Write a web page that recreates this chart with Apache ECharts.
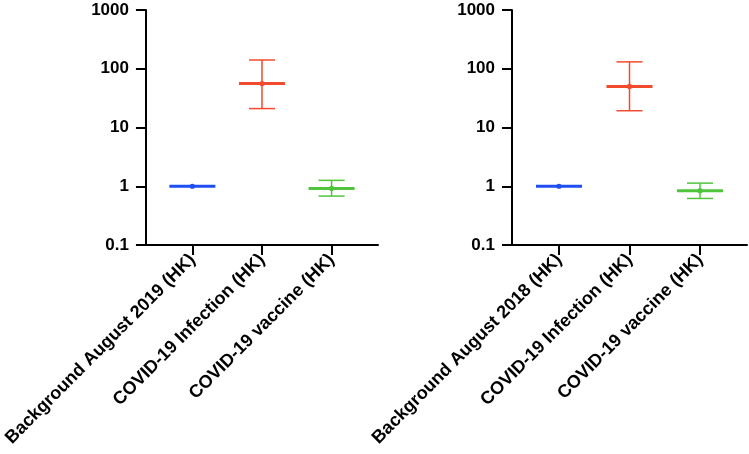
<!DOCTYPE html>
<html>
<head>
<meta charset="utf-8">
<script src="https://cdn.jsdelivr.net/npm/echarts@6/dist/echarts.min.js"></script>
<style>html,body{margin:0;padding:0;background:#fff}#c{width:749px;height:454px}</style>
</head>
<body>
<div id="c"></div>
<script>
// ---- data ----
var categoriesLeft = ['Background August 2019 (HK)', 'COVID-19 Infection (HK)', 'COVID-19 vaccine (HK)'];
var categoriesRight = ['Background August 2018 (HK)', 'COVID-19 Infection (HK)', 'COVID-19 vaccine (HK)'];
var meanLeft = [1, 56, 0.92];
var lowerLeft = [1, 21, 0.68];
var upperLeft = [1, 141, 1.26];
var meanRight = [1, 50, 0.84];
var lowerRight = [1, 19.3, 0.62];
var upperRight = [1, 131, 1.13];
var yTicks = [0.1, 1, 10, 100, 1000];
var groupColors = ['#1f4ff0', '#f24a2c', '#4fc43c'];

function buildData(mean, lo, hi) {
  return mean.map(function (m, i) { return [i + 1, m, lo[i], hi[i], i]; });
}

function renderItem(params, api) {
  var x = api.value(0), m = api.value(1), lo = api.value(2), hi = api.value(3), ci = api.value(4);
  var pm = api.coord([x, m]), pl = api.coord([x, lo]), ph = api.coord([x, hi]);
  var col = groupColors[ci];
  var children = [];
  if (Math.abs(hi - lo) > 1e-9) {
    var thin = { stroke: col, lineWidth: 1.5 };
    children.push({ type: 'line', shape: { x1: pm[0], y1: pl[1], x2: pm[0], y2: ph[1] }, style: thin });
    children.push({ type: 'line', shape: { x1: pm[0] - 13, y1: ph[1], x2: pm[0] + 13, y2: ph[1] }, style: thin });
    children.push({ type: 'line', shape: { x1: pm[0] - 13, y1: pl[1], x2: pm[0] + 13, y2: pl[1] }, style: thin });
  }
  children.push({ type: 'line', shape: { x1: pm[0] - 23, y1: pm[1], x2: pm[0] + 23, y2: pm[1] }, style: { stroke: col, lineWidth: 3 } });
  children.push({ type: 'circle', shape: { cx: pm[0], cy: pm[1], r: 2.6 }, style: { fill: col } });
  return { type: 'group', children: children };
}

var labelFont = { fontFamily: 'Liberation Sans, Arial, sans-serif', fontWeight: 'bold', color: '#000' };

function xAxis(idx, cats) {
  return {
    type: 'value', gridIndex: idx, min: 1 / 3, max: 11 / 3,
    splitLine: { show: false },
    axisLine: { show: true, lineStyle: { color: '#000', width: 2 } },
    axisTick: { show: true, customValues: [1, 2, 3], length: 10, lineStyle: { color: '#000', width: 2 } },
    axisLabel: Object.assign({
      customValues: [1, 2, 3], rotate: 45, fontSize: 18, margin: 12,
      formatter: function (v) { return cats[Math.round(v) - 1] || ''; }
    }, labelFont)
  };
}
function yAxis(idx) {
  return {
    type: 'log', logBase: 10, gridIndex: idx, min: 0.1, max: 1000,
    splitLine: { show: false },
    axisLine: { show: true, lineStyle: { color: '#000', width: 2 } },
    axisTick: { show: true, length: 10, lineStyle: { color: '#000', width: 2 } },
    axisLabel: Object.assign({
      fontSize: 17, margin: 17,
      formatter: function (v) {
        var best = yTicks[0];
        yTicks.forEach(function (t) { if (Math.abs(Math.log10(t) - Math.log10(v)) < Math.abs(Math.log10(best) - Math.log10(v))) best = t; });
        return String(best);
      }
    }, labelFont)
  };
}

var chart = echarts.init(document.getElementById('c'), null, { renderer: 'canvas' });
chart.setOption({
  animation: false,
  backgroundColor: '#fff',
  grid: [
    { left: 143, top: 10, width: 235, height: 235 },
    { left: 512, top: 10, width: 235, height: 235 }
  ],
  xAxis: [xAxis(0, categoriesLeft), xAxis(1, categoriesRight)],
  yAxis: [yAxis(0), yAxis(1)],
  series: [
    { type: 'custom', xAxisIndex: 0, yAxisIndex: 0, renderItem: renderItem, encode: { x: 0, y: [1, 2, 3] }, data: buildData(meanLeft, lowerLeft, upperLeft) },
    { type: 'custom', xAxisIndex: 1, yAxisIndex: 1, renderItem: renderItem, encode: { x: 0, y: [1, 2, 3] }, data: buildData(meanRight, lowerRight, upperRight) }
  ]
});
</script>
</body>
</html>
